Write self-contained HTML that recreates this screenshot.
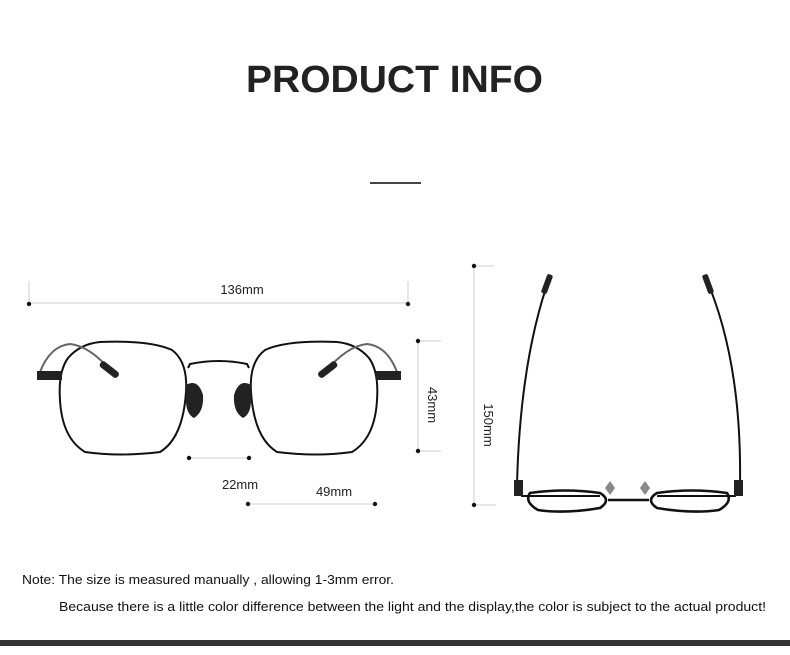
<!DOCTYPE html>
<html><head><meta charset="utf-8"><style>
html,body{margin:0;padding:0;background:#fff;}
body{width:790px;height:655px;position:relative;overflow:hidden;font-family:"Liberation Sans",sans-serif;}
</style></head><body>
<svg width="790" height="655" viewBox="0 0 790 655" xmlns="http://www.w3.org/2000/svg" style="position:absolute;left:0;top:0">
<text x="246" y="92" textLength="297" lengthAdjust="spacingAndGlyphs" font-family="Liberation Sans" font-weight="bold" font-size="38" fill="#222">PRODUCT INFO</text>
<rect x="370" y="182" width="51" height="2" fill="#444"/>
<g stroke="#ccc" stroke-width="1" fill="none">
<line x1="29" y1="303" x2="408" y2="303"/>
<line x1="29" y1="281" x2="29" y2="303"/>
<line x1="408" y1="281" x2="408" y2="303"/>
<line x1="418" y1="341" x2="418" y2="451"/>
<line x1="418" y1="341" x2="441" y2="341"/>
<line x1="418" y1="451" x2="441" y2="451"/>
<line x1="189" y1="458" x2="249" y2="458"/>
<line x1="248" y1="504" x2="375" y2="504"/>
<line x1="474" y1="266" x2="474" y2="505"/>
<line x1="474" y1="266" x2="494" y2="266"/>
<line x1="474" y1="505" x2="496" y2="505"/>
</g>
<g fill="#111">
<circle cx="29" cy="304" r="2.2"/><circle cx="408" cy="304" r="2.2"/>
<circle cx="418" cy="341" r="2.2"/><circle cx="418" cy="451" r="2.2"/>
<circle cx="189" cy="458" r="2.2"/><circle cx="249" cy="458" r="2.2"/>
<circle cx="248" cy="504" r="2.2"/><circle cx="375" cy="504" r="2.2"/>
<circle cx="474" cy="266" r="2.2"/><circle cx="474" cy="505" r="2.2"/>
</g>
<g font-family="Liberation Sans" font-size="13" fill="#222">
<text x="242" y="294" text-anchor="middle">136mm</text>
<text x="240" y="489" text-anchor="middle">22mm</text>
<text x="334" y="496" text-anchor="middle">49mm</text>
<text transform="translate(428,405) rotate(90)" text-anchor="middle">43mm</text>
<text transform="translate(484,425) rotate(90)" text-anchor="middle">150mm</text>
</g>
<g fill="none" stroke="#111" stroke-width="2" stroke-linejoin="round">
<path d="M100 342 Q150 340 172 350 Q188 362 186 392 Q183 438 160 452 Q120 457 85 452 Q62 438 60 400 Q58 372 68 358 Q80 344 100 342Z"/>
<path d="M337 342 Q287 340 265 350 Q249 362 251 392 Q254 438 277 452 Q317 457 352 452 Q375 438 377 400 Q379 372 369 358 Q357 344 337 342Z"/>
<path d="M188 368 L190 364 Q219 358 247 364 L249 368" stroke-width="2"/>
</g>
<g stroke="#666" stroke-width="2" fill="none">
<path d="M40 372 Q50 346 70 344 Q90 346 112 372"/>
<path d="M397 372 Q387 346 367 344 Q347 346 325 372"/>
</g>
<g fill="#222">
<rect x="37" y="371" width="25" height="9"/>
<rect x="376" y="371" width="25" height="9"/>
<rect x="98" y="366" width="22" height="7" rx="3" transform="rotate(38 109 370)"/>
<rect x="317" y="366" width="22" height="7" rx="3" transform="rotate(-38 328 370)"/>
<path d="M186 385 Q198 378 203 395 Q204 412 194 418 Q186 414 186 400Z"/>
<path d="M251 385 Q239 378 234 395 Q233 412 243 418 Q251 414 251 400Z"/>
</g>
<g fill="none" stroke="#111" stroke-width="2">
<path d="M550 276 Q520 360 517 485"/>
<path d="M705 276 Q742 360 740 485"/>
<path d="M518 484 L522 496 L600 496"/>
<path d="M739 484 L735 496 L657 496"/>
</g>
<g fill="none" stroke="#111" stroke-width="2.6">
<path d="M530 493 Q565 488 600 493 Q612 500 600 508 Q565 514 538 510 Q524 502 530 493Z"/>
<path d="M727 493 Q692 488 657 493 Q645 500 657 508 Q692 514 719 510 Q733 502 727 493Z"/>
<line x1="608" y1="500" x2="649" y2="500"/>
</g>
<g fill="#222">
<rect x="544" y="274" width="6" height="20" rx="2" transform="rotate(20 547 284)"/>
<rect x="705" y="274" width="6" height="20" rx="2" transform="rotate(-20 708 284)"/>
<rect x="514" y="480" width="9" height="16"/>
<rect x="734" y="480" width="9" height="16"/>
</g>
<path d="M610 481 L615 488 L610 495 L605 488Z" fill="#888"/>
<path d="M645 481 L650 488 L645 495 L640 488Z" fill="#888"/>
<g font-family="Liberation Sans" font-size="13" fill="#111">
<text x="22" y="584" textLength="372" lengthAdjust="spacingAndGlyphs">Note: The size is measured manually , allowing 1-3mm error.</text>
<text x="59" y="611" textLength="707" lengthAdjust="spacingAndGlyphs">Because there is a little color difference between the light and the display,the color is subject to the actual product!</text>
</g>
<rect x="0" y="640" width="790" height="6" fill="#333"/>
</svg>
</body></html>
